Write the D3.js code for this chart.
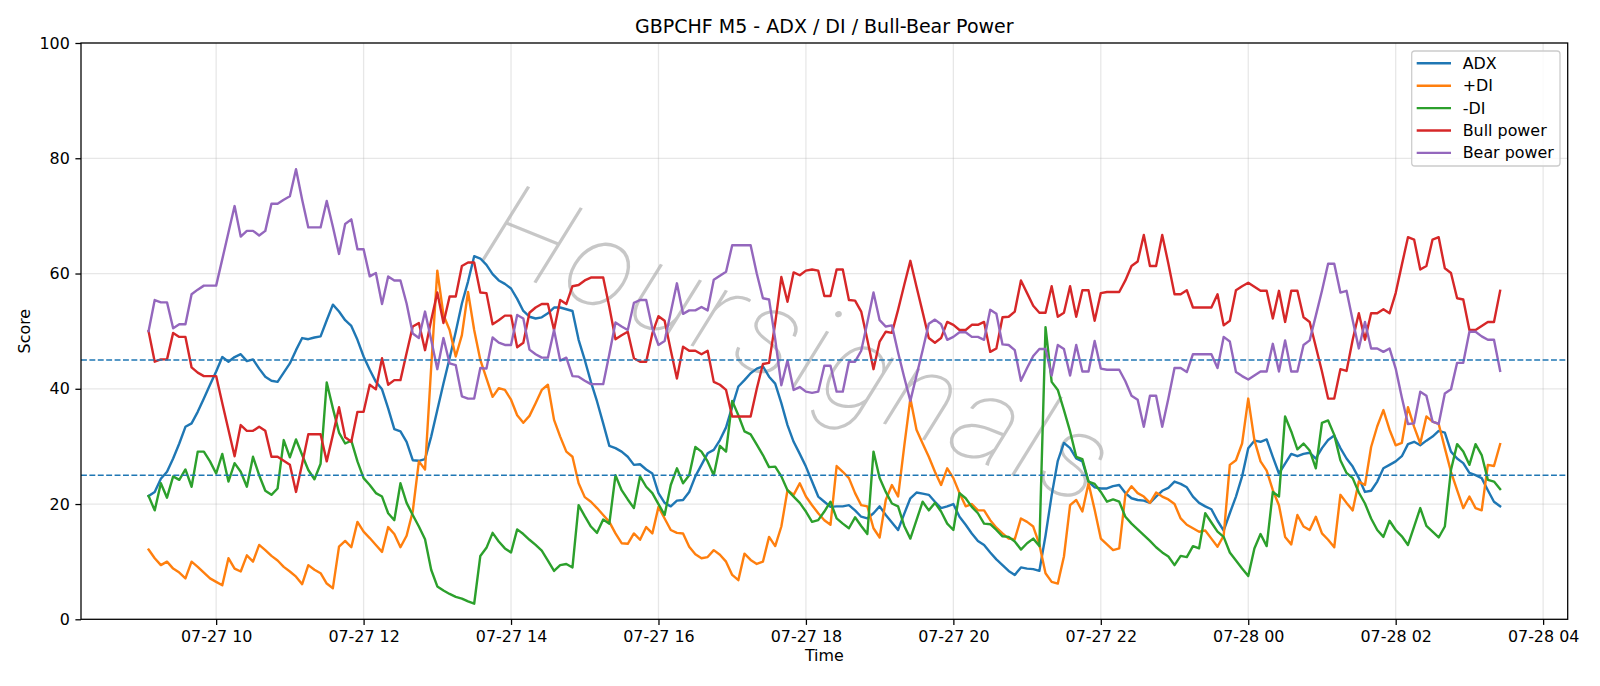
<!DOCTYPE html>
<html>
<head>
<meta charset="utf-8">
<script src="https://cdn.jsdelivr.net/npm/d3@7"></script>
<style>
  body { margin: 0; background: #fff; }
  svg { display: block; }
  text { font-family: "DejaVu Sans", sans-serif; fill: #000; }
</style>
</head>
<body>
<div id="chart"></div>
<script>
// ====== data ======
const title = "GBPCHF M5 - ADX / DI / Bull-Bear Power";
const startTime = "2024-07-27T09:05:00Z";
const stepMinutes = 5;

const adx = [
  21.4,22.1,24.4,25.6,27.9,30.5,33.4,34,36,38.3,40.7,43,45.5,44.7,45.5,46,44.8,45.1,43.5,42.1,41.4,41.2,42.8,44.4,46.7,48.8,48.6,48.9,
  49.1,51.9,54.6,53.4,51.9,50.9,48.5,45.6,43.3,41.2,39.9,36.6,33,32.6,30.8,27.6,27.5,27.8,31.7,36.3,40.9,45.3,49.9,54.8,58.6,63,62.6,61.5,
  59.9,58.8,58.2,57.4,55.6,53.5,52.5,52.2,52.4,53.1,54.1,54.1,53.8,53.5,48.5,45,41.2,37.8,34,30.1,29.7,29.1,28.2,26.8,26.9,26,25.3,21.9,
  20.2,19.6,20.6,20.7,22.1,24.8,26.8,28.8,29.4,31.1,33.3,36.9,40.4,41.5,42.7,43.5,43.9,42.1,40.9,37.5,33.7,30.8,28.7,26.5,23.9,21.3,20.4,
  19.5,19.6,19.6,19.8,18.9,17.8,17.5,18.4,19.6,18.1,16.8,15.5,18.3,21,22,21.8,21.6,20.4,19.3,19.6,20,17.8,16.4,14.9,13.6,12.9,11.6,10.4,
  9.4,8.4,7.7,9,8.8,8.7,8.4,14.5,21.5,27.5,30.6,29.7,27.9,27.4,23.9,22.9,22.7,22.7,23.1,23.3,21.9,21,20.7,20.6,20.2,21.3,22.3,22.8,
  23.9,23.5,22.9,21.3,20.2,19.6,19.1,17.1,15.4,18.4,21.3,24.8,29.7,31,30.8,31.2,28.2,25.3,27,28.7,28.3,28.7,28.9,27.9,29.7,31.1,31.9,
  29.7,27.9,26.5,24.5,22.1,22.3,23.9,26.2,26.8,27.4,28.3,30.4,30.8,30.2,31,31.7,32.7,32.4,29.1,27.9,27.1,25.4,25,24.5,22.4,20.4,19.6
];

const plusDI = [
  12.1,10.6,9.4,10,8.8,8.1,7.1,10,9.1,8.1,7.1,6.5,5.9,10.6,8.8,8.3,11.1,10,12.9,12,11,10.2,9.1,8.3,7.4,6.1,9.4,8.6,
  8,6.2,5.4,12.6,13.6,12.5,16.9,15.2,14.1,12.9,11.7,16,14.8,12.5,14.5,18.7,27.4,26,43.7,60.5,52.8,50.2,45.6,49.3,56.8,50.2,45,41.8,
  38.6,40.1,39.8,38.1,35.4,34.1,35.3,37.5,39.8,40.7,34.6,31.7,29.1,28.2,23.6,21.2,20.4,19.3,18.1,16.9,14.9,13.2,13.1,14.9,13.8,16,14.9,19.5,
  17.5,15.5,15,14.9,12.6,11.3,10.6,10.8,12,11.2,10,7.7,6.8,11.4,10.3,9.6,10,14.3,12.7,16.1,22.4,21.6,23.6,21.3,19.8,18.4,17.2,
  16.4,26.6,25.6,24.5,21.9,19.8,19.6,15.8,14.2,20.7,23.3,21.3,30,38.3,32.9,30.5,28.2,25.6,23.3,26.2,24.5,21.9,19.6,20,18.9,18.9,17.2,15.9,
  14.9,14,13.9,17.5,16.9,16.1,13,8,6.5,6.2,10.9,19.8,20.7,18.7,23.6,19,14,13,12,12.3,21.6,23.1,21.9,21.3,20.2,22,21.3,20.8,
  20,17.5,16.4,15.8,15.2,15.4,14,12.6,14.5,26.8,27.6,30.5,38.3,31.1,27.4,25.8,22.4,19.8,14.3,13,18.1,16.1,15.5,17.8,14.9,13.8,12.5,
  21.6,20.2,18.9,23.9,23.3,29.9,33.5,36.3,32.9,30.2,30.6,36.8,33.4,30.5,35.2,34.3,33.9,29.7,25.6,22.4,19.3,21.3,19.3,18.9,26.8,26.6,30.4
];

const minusDI = [
  21.4,18.9,23.6,21.1,24.8,24.2,26,23,29.1,29.1,27.4,25.3,28.7,23.9,27.1,25.6,23,28.2,25,22.3,21.6,22.7,31.1,28.1,31.2,28.5,25.9,24.3,
  27,41.1,36.6,32.4,30.5,31,27.4,24.5,23.3,21.9,21.3,18.4,17.2,23.6,20.2,18.1,16.1,13.9,8.6,5.7,5,4.4,3.9,3.6,3.1,2.7,11,12.4,
  15,13.5,12.3,11.6,15.6,14.8,13.8,12.9,11.9,10.2,8.4,9.4,9.6,9,19.8,17.9,16.1,15,17.3,16.6,25,22.4,20.8,19.3,24.8,23,21.9,20,
  18.1,23.3,26.2,23.6,25,29.9,29.1,27.4,25,30.1,29.1,37.9,35.4,32.6,32.1,30.3,28.5,26.4,26.5,24.8,22.4,21.3,20.2,18.7,16.9,17.2,18.7,
  20.4,17.5,16.6,15.8,17.7,16.2,14.8,29.1,24.5,22.1,20.1,19.6,16.2,14,17.2,20.4,18.9,20.2,18.7,16.6,15.5,21.9,21,19.5,18.4,16.6,16.5,15.5,
  14.4,14.3,13.5,12.1,13.2,14,12.7,50.7,41.2,39.8,36.3,32.6,28.2,27.8,23.9,23.5,22.1,20.4,20.8,20.4,17.8,16.6,15.6,14.6,13.6,12.5,11.6,10.9,
  9.4,11,10.8,12.7,12.3,18.4,16.8,15.2,14.3,11.6,10.2,8.8,7.5,12.3,14.8,12.7,22.1,21.3,35.2,32.6,29.5,30.5,29.3,26.2,34.1,34.5,32,
  27.6,25.4,24.5,22,20.1,17.5,15.5,14.3,17.1,15.5,14.4,12.9,16.1,19.3,16.2,15.2,14.2,16.1,25.9,30.4,29.1,26.8,30.4,28.5,24.2,23.9,22.6
];

const bullPower = [
  50,44.7,45.1,45.1,49.7,49,49,43.7,42.8,42.2,42.2,42.2,37.5,32.9,28.3,33.7,32.7,32.7,33.4,32.7,28.2,28.2,27.5,26.8,22.1,27,32.1,32.1,
  32.1,27.4,32,36.8,31.6,30.8,36,36,40.7,39.9,45.3,40.7,41.5,41.5,46.2,50.8,51.4,46.7,51.9,56.7,51.4,56,56,61.3,61.9,61.9,56.7,56.6,
  51.2,51.9,52.7,52.7,47.2,48,53.2,54.1,54.7,54.7,50.2,55.4,54.7,57.8,58,58.8,59.3,59.3,59.3,54.2,48.6,49.3,49.9,45.3,44.7,44.7,49.6,52.6,
  51.8,46.7,41.8,47.3,46.6,46.6,46,46.6,41.2,40.7,39.8,35.2,35.2,35.2,35.2,40,44.3,44.5,51.4,59.4,55.1,60.2,59.7,60.5,60.7,60.5,56.1,
  56.1,60.7,60.7,55.4,55.3,53.4,48.5,43.4,48.2,49.9,49.7,53.7,58,62.2,57.7,53.3,48.8,48,48.8,51.6,51.1,50.2,50.2,51.1,51.1,51.6,46.4,47,
  52.4,52.5,53.4,58.8,56.6,54.4,53.2,53.2,57.8,52.5,53.2,57.8,52.5,57.1,57.1,51.8,56.6,56.8,56.8,56.8,58.8,61.3,62.1,66.7,61.3,61.3,66.7,61.7,
  56.4,56.4,57.1,54.1,54.1,54.1,54.1,56.4,51,51.8,57.1,57.8,58.4,57.7,57,57,52.2,57,51.6,57,57,52.4,51.6,47.3,43,38.3,38.3,
  43.4,43.1,48.5,53.1,48.5,53.1,53.1,53.8,53.1,56.6,61.5,66.3,65.9,60.7,61.3,65.9,66.3,60.9,60.1,55.7,55.5,50.2,50.2,50.9,51.6,51.6,57
];

const bearPower = [
  50,55.4,55,55,50.5,51.2,51.2,56.4,57.2,57.9,57.9,57.9,62.5,67.1,71.7,66.4,67.4,67.4,66.6,67.4,72.1,72.1,72.8,73.4,78.1,72.8,68,68,
  68,72.6,68.1,63.4,68.6,69.4,64.2,64.2,59.5,60.1,54.7,59.5,58.8,58.8,54.8,49.6,48.8,53.4,48.5,43.4,48.8,44.4,44.1,38.7,38.3,38.3,43.6,43.5,
  48.9,48,47.6,47.6,52.8,52.2,46.8,46,45.4,45.4,50.2,44.9,45.4,42.2,42.1,41.4,40.8,40.8,40.8,46,51.5,50.8,50.2,54.9,55.4,55.4,50.5,47.6,
  48.3,53.3,58.3,53,53.6,53.6,54.2,53.6,58.9,59.6,60.3,64.9,64.9,64.9,64.9,60,55.7,55.5,48.6,40.6,44.9,39.8,40.3,39.5,39.3,39.5,44,
  44,39.5,39.5,44.7,44.7,46.6,51.5,56.7,51.9,50.8,51,46.3,42,37.9,42.3,46.7,51.3,52,51.2,48.5,49,49.8,49.8,49,49,48.5,53.7,53,
  47.7,47.6,46.7,41.4,43.6,45.7,46.9,46.9,42.3,47.6,46.9,42.3,47.6,43,43,48.3,43.5,43.3,43.3,43.3,41.3,38.8,38.1,33.4,38.8,38.8,33.4,38.3,
  43.6,43.6,42.9,46,46,46,46,43.6,49,48.2,42.9,42.2,41.6,42.3,43,43,47.8,43,48.4,43,43,47.6,48.4,52.7,57,61.7,61.7,
  56.7,57,51.9,47,51.6,47,47,46.4,47,43.5,38.5,33.9,34,39.5,38.8,34.3,33.9,39.2,39.9,44.5,44.5,49.9,49.9,49.1,48.5,48.5,43.1
];

const seriesNames  = ["ADX", "+DI", "-DI", "Bull power", "Bear power"];
const seriesColors = ["#1f77b4", "#ff7f0e", "#2ca02c", "#d62728", "#9467bd"];
const levelLines = [45, 25];
const yTicks = [0, 20, 40, 60, 80, 100];
const watermark = "Hoursignals";

// ====== chart ======
const W = 1600, H = 686;
const margin = { top: 43, right: W - 1567.7, bottom: H - 619.3, left: 81 };
const innerW = W - margin.left - margin.right;
const innerH = H - margin.top - margin.bottom;

const t0 = d3.isoParse(startTime);
const seriesValues = [adx, plusDI, minusDI, bullPower, bearPower];
const times = adx.map((_, i) => d3.utcMinute.offset(t0, i * stepMinutes));
const tEnd = times[times.length - 1];
const pad = (tEnd - t0) * 0.05;

const x = d3.scaleUtc()
  .domain([new Date(+t0 - pad), new Date(+tEnd + pad)])
  .range([0, innerW]);
const y = d3.scaleLinear().domain([0, 100]).range([innerH, 0]);

const svg = d3.select("#chart").append("svg")
  .attr("width", W).attr("height", H);

svg.append("rect").attr("width", W).attr("height", H).attr("fill", "#fff");

const g = svg.append("g")
  .attr("transform", `translate(${margin.left},${margin.top})`);

// grid
const xTicks = x.ticks(d3.utcHour.every(2));
g.append("g").selectAll("line")
  .data(xTicks).join("line")
  .attr("x1", d => x(d)).attr("x2", d => x(d))
  .attr("y1", 0).attr("y2", innerH)
  .attr("stroke", "#b0b0b0").attr("stroke-opacity", 0.3).attr("stroke-width", 1.27);
g.append("g").selectAll("line")
  .data(yTicks).join("line")
  .attr("x1", 0).attr("x2", innerW)
  .attr("y1", d => y(d)).attr("y2", d => y(d))
  .attr("stroke", "#b0b0b0").attr("stroke-opacity", 0.3).attr("stroke-width", 1.27);

// watermark (thin grey letters, rotated)
g.append("text")
  .attr("transform", `translate(${800 - margin.left},${345 - margin.top}) rotate(22)`)
  .attr("text-anchor", "middle")
  .attr("dominant-baseline", "central")
  .style("font-family", "Roboto, Inter, sans-serif")
  .style("font-size", "122px")
  .style("font-style", "italic")
  .style("font-weight", 100)
  .style("letter-spacing", "5px")
  .style("fill", "#b4b4b4")
  .style("fill-opacity", 0.75)
  .text(watermark);

// series lines
const line = d3.line()
  .x((d, i) => x(times[i]))
  .y(d => y(d));

seriesValues.forEach((vals, k) => {
  g.append("path")
    .datum(vals)
    .attr("d", line)
    .attr("fill", "none")
    .attr("stroke", seriesColors[k])
    .attr("stroke-width", 2.4)
    .attr("stroke-linejoin", "round")
    .attr("stroke-linecap", "square");
});

// threshold lines
g.append("g").selectAll("line")
  .data(levelLines).join("line")
  .attr("x1", 0).attr("x2", innerW)
  .attr("y1", d => y(d)).attr("y2", d => y(d))
  .attr("stroke", "#1f77b4").attr("stroke-width", 1.59)
  .attr("stroke-dasharray", "5.9,2.5");

// axes
const xAxis = d3.axisBottom(x).tickValues(xTicks)
  .tickFormat(d3.utcFormat("%m-%d %H")).tickSize(5.6).tickPadding(5.6);
const yAxis = d3.axisLeft(y).tickValues(yTicks).tickSize(5.6).tickPadding(5.6);

const gx = g.append("g").attr("transform", `translate(0,${innerH})`).call(xAxis);
const gy = g.append("g").call(yAxis);
[gx, gy].forEach(a => {
  a.select(".domain").remove();
  a.selectAll("line").attr("stroke", "#000").attr("stroke-width", 1.27);
  a.selectAll("text").style("font-size", "15.9px").style("font-family", "DejaVu Sans");
});
gx.selectAll("text").attr("dy", "0.71em");

// spines
g.append("rect")
  .attr("width", innerW).attr("height", innerH)
  .attr("fill", "none").attr("stroke", "#000").attr("stroke-width", 1.27);

// title and labels
svg.append("text")
  .attr("x", margin.left + innerW / 2).attr("y", 33)
  .attr("text-anchor", "middle")
  .style("font-size", "19px")
  .text(title);

svg.append("text")
  .attr("x", margin.left + innerW / 2).attr("y", 661)
  .attr("text-anchor", "middle")
  .style("font-size", "15.9px")
  .text("Time");

svg.append("text")
  .attr("transform", `translate(30,${margin.top + innerH / 2}) rotate(-90)`)
  .attr("text-anchor", "middle")
  .style("font-size", "15.9px")
  .text("Score");

// legend
const lg = svg.append("g").attr("transform", "translate(1411.7,51)");
lg.append("rect")
  .attr("width", 148.3).attr("height", 115)
  .attr("rx", 3).attr("ry", 3)
  .attr("fill", "#fff").attr("fill-opacity", 0.8)
  .attr("stroke", "#ccc").attr("stroke-width", 1.27);
seriesNames.forEach((name, k) => {
  const cy = 12.3 + k * 22.4;
  lg.append("line")
    .attr("x1", 5).attr("x2", 39.3)
    .attr("y1", cy).attr("y2", cy)
    .attr("stroke", seriesColors[k]).attr("stroke-width", 2.4);
  lg.append("text")
    .attr("x", 51).attr("y", cy)
    .attr("dominant-baseline", "central")
    .style("font-size", "15.9px")
    .text(name);
});
</script>
</body>
</html>
